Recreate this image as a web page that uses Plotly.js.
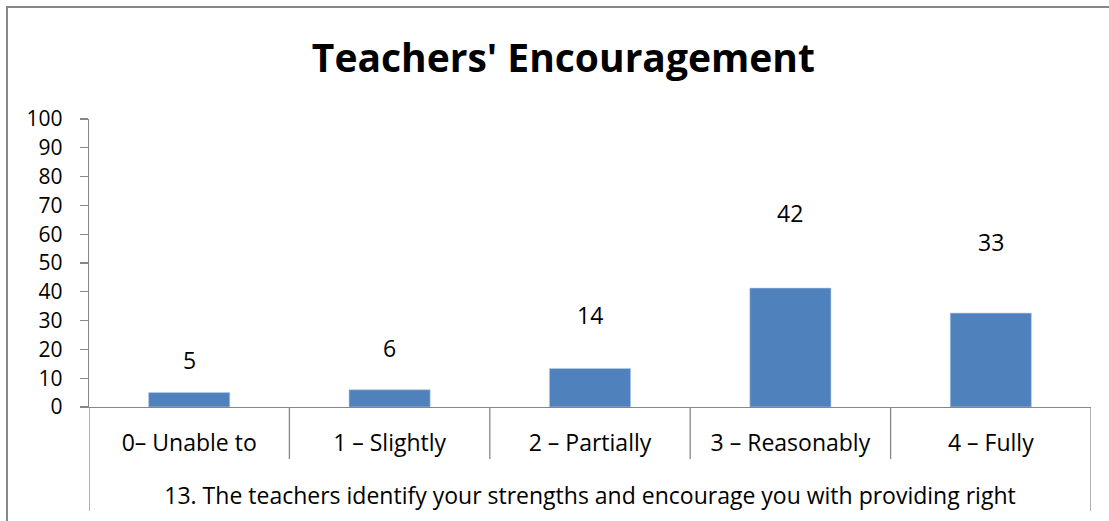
<!DOCTYPE html>
<html>
<head>
<meta charset="utf-8">
<script src="https://cdn.plot.ly/plotly-3.0.1.min.js"></script>
<style>
  html, body { margin: 0; padding: 0; background: #ffffff; }
  #frame { position: absolute; left: 6px; top: 6px; width: 1200px; height: 600px;
           border-left: 2px solid #878787; border-top: 2px solid #878787; z-index: 0; }
  #chart { position: absolute; left: 0; top: 0; width: 1109px; height: 521px; z-index: 1; }
</style>
</head>
<body>
<div id="frame"></div>
<div id="chart"></div>
<script>
// ---- data ----
const categories = ["0– Unable to", "1 – Slightly", "2 – Partially", "3 – Reasonably", "4 – Fully"];
const groupLabel = "13. The teachers identify your strengths and encourage you with providing right";
const values = [5, 6, 13.4, 41.3, 32.6];
const valueLabels = ["5", "6", "14", "42", "33"];
const yTicks = [0, 10, 20, 30, 40, 50, 60, 70, 80, 90, 100];

// ---- style ----
const FONT = "'Open Sans', Lato, sans-serif";
const GREY = "#878787";
const labelShiftPx = [33, 42, 53, 75, 71];
const PLOT_H = 521 - 119 - 114;

const trace = {
  type: "bar",
  x: categories,
  y: values,
  marker: { color: "#4F81BD", line: { color: "#B9CDE5", width: 0.6 } },
  hoverinfo: "skip"
};

const annotations = values.map((v, i) => ({
  x: categories[i], y: v, xref: "x", yref: "y",
  text: valueLabels[i], showarrow: false,
  yanchor: "middle", xanchor: "center", yshift: labelShiftPx[i],
  font: { family: FONT, size: 23, color: "#000000" }
}));

// category boundary dividers (axis decoration)
const shapes = [];
for (let i = 0; i <= categories.length; i++) {
  const edge = (i === 0 || i === categories.length);
  shapes.push({
    type: "line", xref: "x", yref: "paper",
    x0: i - 0.5, x1: i - 0.5, y0: 0, y1: -(edge ? 104 : 52) / PLOT_H,
    line: { color: GREY, width: 1.3 }
  });
}

const layout = {
  width: 1109, height: 521,
  margin: { l: 89, r: 18, t: 119, b: 114 },
  paper_bgcolor: "rgba(0,0,0,0)",
  plot_bgcolor: "rgba(0,0,0,0)",
  showlegend: false,
  bargap: 0.595,
  title: {
    text: "<b>Teachers' Encouragement</b>",
    font: { family: FONT, size: 39, color: "#000000" },
    x: 0.508, xanchor: "center", y: 0.888, yanchor: "middle"
  },
  xaxis: {
    type: "category",
    range: [-0.5, categories.length - 0.5],
    showline: true, linecolor: GREY, linewidth: 1.3,
    ticks: "", ticklabelstandoff: 15,
    showgrid: false, zeroline: false,
    tickfont: { family: FONT, size: 23, color: "#000000" },
    title: { text: groupLabel, standoff: 31, font: { family: FONT, size: 23, color: "#000000" } }
  },
  yaxis: {
    range: [0, 100], tickvals: yTicks, ticktext: yTicks.map(String),
    showline: true, linecolor: GREY, linewidth: 1.3,
    ticks: "outside", ticklen: 8, tickcolor: GREY, tickwidth: 1.3,
    ticklabelstandoff: 13,
    showgrid: false, zeroline: false,
    tickfont: { family: FONT, size: 21, color: "#000000" }
  },
  shapes: shapes,
  annotations: annotations
};

Plotly.newPlot("chart", [trace], layout, { staticPlot: true, displayModeBar: false });
</script>
</body>
</html>
